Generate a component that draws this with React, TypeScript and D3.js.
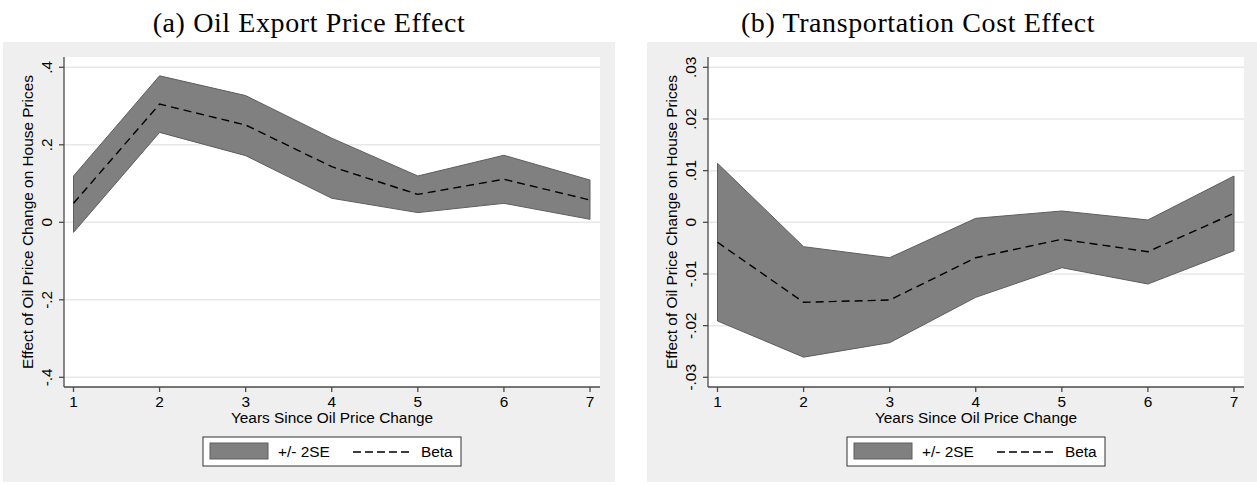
import { useEffect, useRef } from "react"
import * as d3 from "d3"

// years on the x axis
const years = [1, 2, 3, 4, 5, 6, 7]

// (a) oil export price effect
const betaA = [0.049, 0.305, 0.251, 0.1435, 0.072, 0.111, 0.0575]
const upperA = [0.1195, 0.378, 0.327, 0.217, 0.1195, 0.173, 0.109]
const lowerA = [-0.026, 0.232, 0.172, 0.062, 0.025, 0.049, 0.0077]
const ticksA = [-0.4, -0.2, 0, 0.2, 0.4]
const tickLabelsA = ["-.4", "-.2", "0", ".2", ".4"]

// (b) transportation cost effect
const betaB = [-0.00387, -0.01548, -0.01504, -0.00685, -0.00329, -0.00569, 0.00174]
const upperB = [0.01142, -0.00472, -0.00685, 0.00077, 0.00219, 0.00045, 0.00896]
const lowerB = [-0.0191, -0.0261, -0.0233, -0.01452, -0.00879, -0.01194, -0.0055]
const ticksB = [-0.03, -0.02, -0.01, 0, 0.01, 0.02, 0.03]
const tickLabelsB = ["-.03", "-.02", "-.01", "0", ".01", ".02", ".03"]

const titles = ["(a) Oil Export Price Effect", "(b) Transportation Cost Effect"]
const yTitle = "Effect of Oil Price Change on House Prices"
const xTitle = "Years Since Oil Price Change"
const legendLabels = ["+/- 2SE", "Beta"]

const W = 1257
const H = 485
const sans = "'Liberation Sans', Arial, sans-serif"
const fs = 15.4

function drawPanel(
  root: d3.Selection<SVGSVGElement, unknown, null, undefined>,
  opts: {
    bgX: number
    bgW: number
    plotLeft: number
    plotRight: number
    title: string
    titleX: number
    beta: number[]
    upper: number[]
    lower: number[]
    ticks: number[]
    tickLabels: string[]
  },
) {
  const top = 57
  const bottom = 387
  const g = root.append("g")

  // outer gray background
  g.append("rect")
    .attr("x", opts.bgX)
    .attr("y", 42)
    .attr("width", opts.bgW)
    .attr("height", 440)
    .attr("fill", "#efefef")

  // title
  g.append("text")
    .attr("x", opts.titleX)
    .attr("y", 32)
    .attr("text-anchor", "middle")
    .attr("font-family", "'Liberation Serif', 'Times New Roman', serif")
    .attr("font-size", 28)
    .attr("letter-spacing", 0.6)
    .attr("fill", "#000")
    .text(opts.title)

  // plot region
  g.append("rect")
    .attr("x", opts.plotLeft)
    .attr("y", top)
    .attr("width", opts.plotRight - opts.plotLeft)
    .attr("height", bottom - top)
    .attr("fill", "#fff")

  const x = d3
    .scaleLinear()
    .domain([1, 7])
    .range([opts.plotLeft + 9.5, opts.plotRight - 10])
  const y = d3
    .scaleLinear()
    .domain([opts.ticks[0], opts.ticks[opts.ticks.length - 1]])
    .range([bottom - 9.7, top + 10.3])

  // grid lines
  g.selectAll(".grid")
    .data(opts.ticks)
    .enter()
    .append("line")
    .attr("x1", opts.plotLeft)
    .attr("x2", opts.plotRight)
    .attr("y1", (d) => y(d))
    .attr("y2", (d) => y(d))
    .attr("stroke", "#e8e8e8")
    .attr("stroke-width", 1.5)

  const rows = years.map((yr, i) => ({ yr, b: opts.beta[i], hi: opts.upper[i], lo: opts.lower[i] }))

  // confidence band
  const area = d3
    .area<(typeof rows)[number]>()
    .x((d) => x(d.yr))
    .y0((d) => y(d.lo))
    .y1((d) => y(d.hi))
  g.append("path")
    .datum(rows)
    .attr("d", area)
    .attr("fill", "#808080")
    .attr("stroke", "#5e5e5e")
    .attr("stroke-width", 1)

  // beta line
  const line = d3
    .line<(typeof rows)[number]>()
    .x((d) => x(d.yr))
    .y((d) => y(d.b))
  g.append("path")
    .datum(rows)
    .attr("d", line)
    .attr("fill", "none")
    .attr("stroke", "#000")
    .attr("stroke-width", 1.4)
    .attr("stroke-dasharray", "8,5")

  // y axis
  g.append("line")
    .attr("x1", opts.plotLeft)
    .attr("x2", opts.plotLeft)
    .attr("y1", top)
    .attr("y2", bottom)
    .attr("stroke", "#4a4a4a")
    .attr("stroke-width", 1.3)
  opts.ticks.forEach((t, i) => {
    g.append("line")
      .attr("x1", opts.plotLeft - 5)
      .attr("x2", opts.plotLeft)
      .attr("y1", y(t))
      .attr("y2", y(t))
      .attr("stroke", "#4a4a4a")
      .attr("stroke-width", 1.3)
    g.append("text")
      .attr("transform", `translate(${opts.plotLeft - 12.5},${y(t)}) rotate(-90)`)
      .attr("text-anchor", "middle")
      .attr("font-family", sans)
      .attr("font-size", fs)
      .attr("fill", "#000")
      .text(opts.tickLabels[i])
  })
  g.append("text")
    .attr("transform", `translate(${opts.plotLeft - 31.5},${(top + bottom) / 2}) rotate(-90)`)
    .attr("text-anchor", "middle")
    .attr("font-family", sans)
    .attr("font-size", fs)
    .attr("fill", "#000")
    .text(yTitle)

  // x axis
  g.append("line")
    .attr("x1", opts.plotLeft)
    .attr("x2", opts.plotRight)
    .attr("y1", bottom)
    .attr("y2", bottom)
    .attr("stroke", "#4a4a4a")
    .attr("stroke-width", 1.3)
  years.forEach((yr) => {
    g.append("line")
      .attr("x1", x(yr))
      .attr("x2", x(yr))
      .attr("y1", bottom)
      .attr("y2", bottom + 5)
      .attr("stroke", "#4a4a4a")
      .attr("stroke-width", 1.3)
    g.append("text")
      .attr("x", x(yr))
      .attr("y", 407)
      .attr("text-anchor", "middle")
      .attr("font-family", sans)
      .attr("font-size", fs)
      .attr("fill", "#000")
      .text(String(yr))
  })
  g.append("text")
    .attr("x", (opts.plotLeft + opts.plotRight) / 2)
    .attr("y", 423)
    .attr("text-anchor", "middle")
    .attr("font-family", sans)
    .attr("font-size", fs)
    .attr("fill", "#000")
    .text(xTitle)

  // legend
  const lx = opts.plotLeft + 139
  g.append("rect")
    .attr("x", lx)
    .attr("y", 437)
    .attr("width", 258)
    .attr("height", 29)
    .attr("fill", "#fff")
    .attr("stroke", "#333")
    .attr("stroke-width", 1)
  g.append("rect")
    .attr("x", lx + 7)
    .attr("y", 443)
    .attr("width", 58)
    .attr("height", 16)
    .attr("fill", "#808080")
    .attr("stroke", "#5e5e5e")
  g.append("text")
    .attr("x", lx + 75)
    .attr("y", 457)
    .attr("font-family", sans)
    .attr("font-size", fs)
    .attr("fill", "#000")
    .text(legendLabels[0])
  g.append("line")
    .attr("x1", lx + 150)
    .attr("x2", lx + 209)
    .attr("y1", 452)
    .attr("y2", 452)
    .attr("stroke", "#000")
    .attr("stroke-width", 1.4)
    .attr("stroke-dasharray", "8,4")
  g.append("text")
    .attr("x", lx + 218)
    .attr("y", 457)
    .attr("font-family", sans)
    .attr("font-size", fs)
    .attr("fill", "#000")
    .text(legendLabels[1])
}

export default function App() {
  const svgRef = useRef<SVGSVGElement>(null)

  useEffect(() => {
    if (!svgRef.current) return
    document.body.style.margin = "0"
    const svg = d3.select(svgRef.current)
    svg.selectAll("*").remove()
    svg.append("rect").attr("width", W).attr("height", H).attr("fill", "#fff")

    drawPanel(svg, {
      bgX: 3,
      bgW: 612,
      plotLeft: 64,
      plotRight: 600,
      title: titles[0],
      titleX: 309,
      beta: betaA,
      upper: upperA,
      lower: lowerA,
      ticks: ticksA,
      tickLabels: tickLabelsA,
    })
    drawPanel(svg, {
      bgX: 647,
      bgW: 610,
      plotLeft: 708,
      plotRight: 1244,
      title: titles[1],
      titleX: 918,
      beta: betaB,
      upper: upperB,
      lower: lowerB,
      ticks: ticksB,
      tickLabels: tickLabelsB,
    })
  }, [])

  return <svg ref={svgRef} width={W} height={H} style={{ display: "block" }} />
}
